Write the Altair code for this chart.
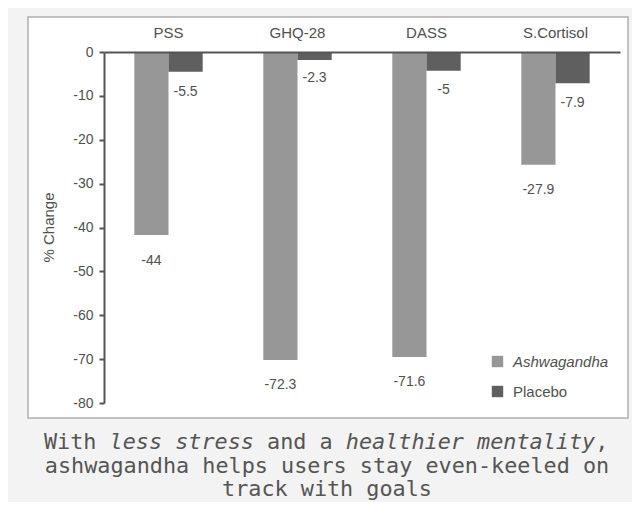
import altair as alt
import pandas as pd

categories = ["PSS", "GHQ-28", "DASS", "S.Cortisol"]
groups = ["Ashwagandha", "Placebo"]
# bar ends as drawn in the picture
ashwa_bar = [-41.7, -70.2, -69.5, -25.7]
placebo_bar = [-4.5, -1.8, -4.3, -7.1]
# printed value labels
ashwa_label = [-44, -72.3, -71.6, -27.9]
placebo_label = [-5.5, -2.3, -5, -7.9]
ashwa_text = ["-44", "-72.3", "-71.6", "-27.9"]
placebo_text = ["-5.5", "-2.3", "-5", "-7.9"]
y_ticks = [0, -10, -20, -30, -40, -50, -60, -70, -80]

caption_line1 = [("With", "normal"), ("less stress", "italic"), ("and a", "normal"),
                 ("healthier mentality", "italic"), (",", "normal")]
caption_line2 = "ashwagandha helps users stay even-keeled on"
caption_line3 = "track with goals"

rows = []
for i, c in enumerate(categories):
    rows.append({"cat": c, "group": groups[0], "bar": ashwa_bar[i], "lab": ashwa_label[i], "txt": ashwa_text[i]})
    rows.append({"cat": c, "group": groups[1], "bar": placebo_bar[i], "lab": placebo_label[i], "txt": placebo_text[i]})
df = pd.DataFrame(rows)

FONT = "Liberation Sans"
TXT = "#505050"
AX = "#555555"

xenc = alt.X("cat:N", sort=categories, title=None,
             scale=alt.Scale(paddingInner=0.47, paddingOuter=0.235),
             axis=alt.Axis(orient="top", ticks=False, labelAngle=0, labelFont=FONT,
                           labelFontSize=15, labelColor=TXT, labelBaseline="alphabetic",
                           labelPadding=15, domainColor=AX, domainWidth=2, zindex=1))
xoff = alt.XOffset("group:N", sort=groups, scale=alt.Scale(paddingInner=0, paddingOuter=0))
yscale = alt.Scale(domain=[-80, 0], nice=False)

bg = alt.Chart(pd.DataFrame({"a": [0]})).mark_rect(
    fill="white", stroke="#b0b0b0", strokeWidth=1.5
).encode(x=alt.value(-76), x2=alt.value(524), y=alt.value(-35), y2=alt.value(366))

bars = alt.Chart(df).mark_bar().encode(
    x=xenc,
    xOffset=xoff,
    y=alt.Y("bar:Q", scale=yscale, title="% Change",
            axis=alt.Axis(values=y_ticks, grid=False, labelFont=FONT, labelFontSize=14,
                          labelExpr="'' + datum.value",
                          labelColor=TXT, tickSize=5, tickWidth=2, tickColor=AX,
                          labelPadding=6, domainColor=AX, domainWidth=2, zindex=1,
                          titleFont=FONT, titleFontSize=15, titleFontWeight="normal",
                          titleColor=TXT, titleAngle=270, titleX=-56, titleY=175,
                          titleAlign="center", titleBaseline="middle")),
    color=alt.Color("group:N", sort=groups,
                    scale=alt.Scale(domain=groups, range=["#979797", "#5f5f5f"]),
                    legend=alt.Legend(title=None, orient="none", legendX=386, legendY=302,
                                      symbolType="square", symbolSize=130, symbolStrokeWidth=0,
                                      labelFont=FONT, labelFontSize=15, labelColor=TXT,
                                      labelOffset=8, rowPadding=14, padding=0,
                                      labelFontStyle={"expr": "datum.label == 'Ashwagandha' ? 'italic' : 'normal'"})),
)

labels = alt.Chart(df).mark_text(font=FONT, fontSize=14, color=TXT, baseline="middle", dy=16).encode(
    x=alt.X("cat:N", sort=categories),
    xOffset=alt.XOffset("group:N", sort=groups),
    y=alt.Y("lab:Q", scale=yscale),
    text="txt:N",
)

MONO = "DejaVu Sans Mono"
CFS = 21.8
CW = CFS * 0.60205
CAP = "#555555"
layers = [bg, bars, labels]

# line 1: segments placed by character index (monospace), one space between segments
pos = 0
x0 = -60
for seg, style in caption_line1:
    if seg == ",":
        pos -= 1
    layers.append(
        alt.Chart(pd.DataFrame({"t": [seg]})).mark_text(
            font=MONO, fontSize=CFS, fontStyle=style, color=CAP, align="left", baseline="alphabetic"
        ).encode(text="t:N", x=alt.value(x0 + pos * CW), y=alt.value(396.5))
    )
    pos += len(seg) + 1

for line, yy in [(caption_line2, 420.5), (caption_line3, 443.5)]:
    layers.append(
        alt.Chart(pd.DataFrame({"t": [line]})).mark_text(
            font=MONO, fontSize=CFS, color=CAP, align="center", baseline="alphabetic"
        ).encode(text="t:N", x=alt.value(223), y=alt.value(yy))
    )

chart = alt.layer(*layers).properties(
    width=516, height=351,
    padding={"left": 96, "top": 44, "right": 12, "bottom": 99},
    autosize=alt.AutoSizeParams(type="none"),
    background="#f3f3f3",
).configure_view(stroke=None)

chart.save("out.html", embed_options={"renderer": "svg", "actions": False})
